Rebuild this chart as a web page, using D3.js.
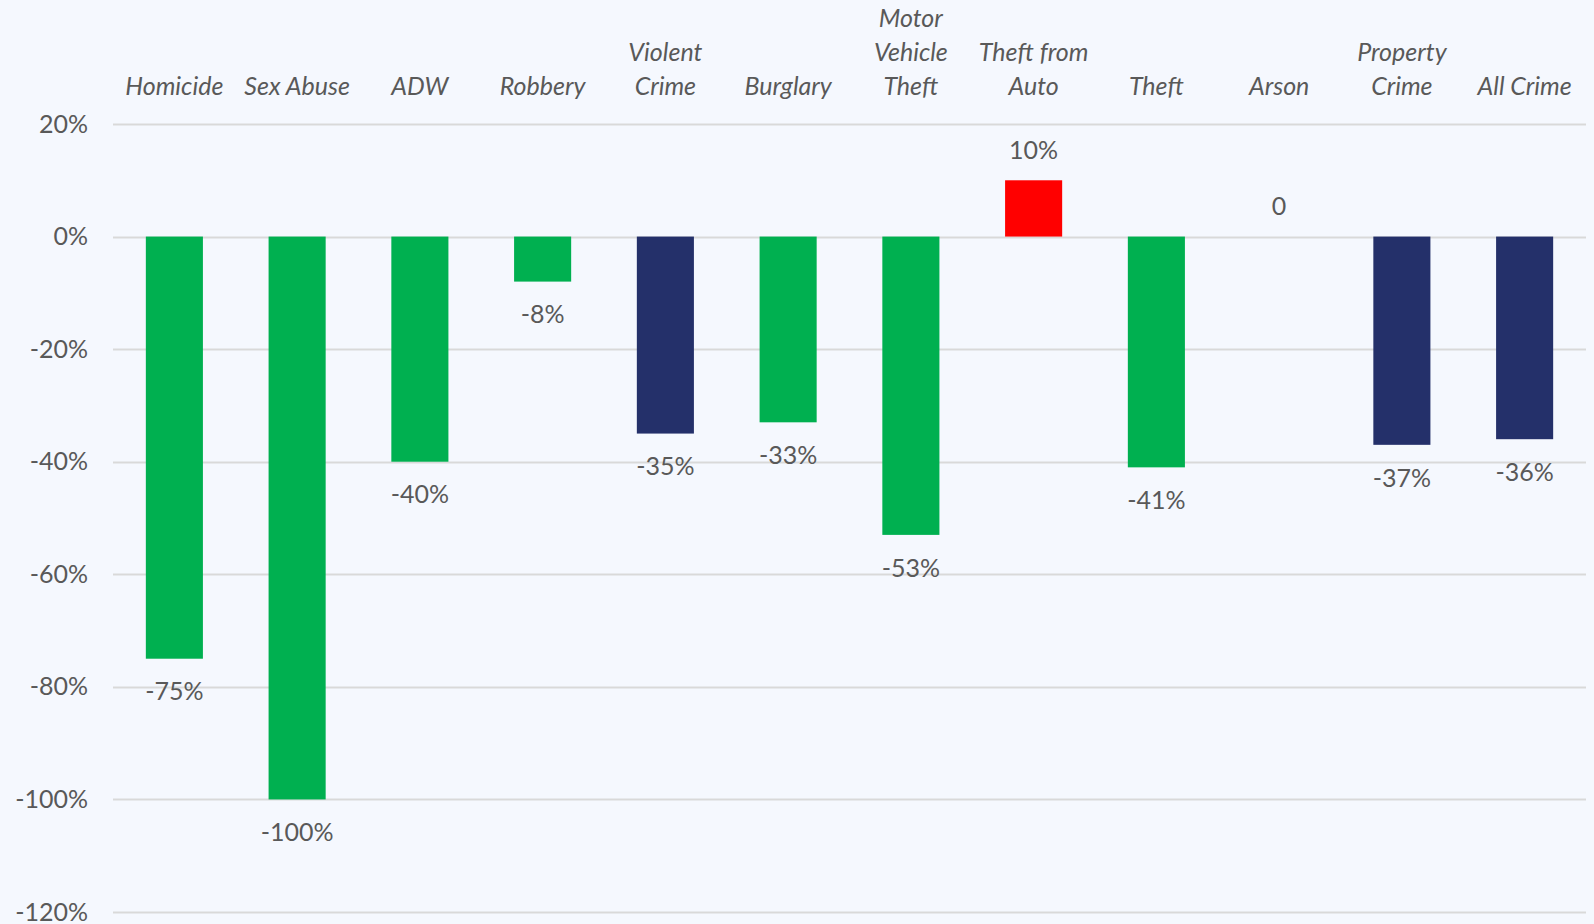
<!DOCTYPE html>
<html>
<head>
<meta charset="utf-8">
<script src="https://cdn.jsdelivr.net/npm/d3@7"></script>
<style>
  html, body { margin: 0; padding: 0; background: #f5f8fe; }
  svg { display: block; }
  text { font-family: Lato, "Open Sans", sans-serif; fill: #595959; }
</style>
</head>
<body>
<svg id="chart"></svg>
<script>
(function() {

  // categories (label lines) and percent change values
  const categories = [
    ['Homicide'], ['Sex Abuse'], ['ADW'], ['Robbery'], ['Violent', 'Crime'],
    ['Burglary'], ['Motor', 'Vehicle', 'Theft'], ['Theft from', 'Auto'],
    ['Theft'], ['Arson'], ['Property', 'Crime'], ['All Crime']
  ];
  const values = [-75, -100, -40, -8, -35, -33, -53, 10, -41, 0, -37, -36];
  const barColors = ['#00b050', '#00b050', '#00b050', '#00b050', '#24306a', '#00b050',
    '#00b050', '#ff0000', '#00b050', '#00b050', '#24306a', '#24306a'];
  const yTicks = [20, 0, -20, -40, -60, -80, -100, -120];

  const width = 1594;
  const height = 924;
  const fontSize = 25;
  const margin = {
    left: 113,
    right: 8,
    top: 124,
    bottom: 12
  };

  const svg = d3.select('#chart')
    .attr('width', width)
    .attr('height', height);

  const x = d3.scaleBand()
    .domain(d3.range(categories.length))
    .range([margin.left, width - margin.right])
    .paddingInner(0.535)
    .paddingOuter(0.2675);

  const y = d3.scaleLinear()
    .domain([20, -120])
    .range([margin.top, height - margin.bottom]);

  // gridlines
  svg.append('g').attr('class', 'grid')
    .selectAll('line')
    .data(yTicks)
    .enter()
    .append('line')
    .attr('x1', margin.left)
    .attr('x2', width - margin.right)
    .attr('y1', function(d) { return Math.round(y(d)) + 0.5; })
    .attr('y2', function(d) { return Math.round(y(d)) + 0.5; })
    .attr('stroke', '#d9d9d9')
    .attr('stroke-width', 2);

  // y axis labels
  const yAxis = d3.axisLeft(y)
    .tickValues(yTicks)
    .tickFormat(function(d) { return d + '%'; })
    .tickSize(0)
    .tickPadding(25);

  const yAxisGroup = svg.append('g')
    .attr('transform', 'translate(' + margin.left + ',0)')
    .call(yAxis);
  yAxisGroup.select('.domain').remove();
  yAxisGroup.selectAll('text')
    .attr('font-family', 'Lato, "Open Sans", sans-serif')
    .attr('font-size', fontSize)
    .attr('fill', '#595959');

  // bars
  svg.append('g').attr('class', 'bars')
    .selectAll('rect')
    .data(values)
    .enter()
    .append('rect')
    .attr('x', function(d, i) { return x(i); })
    .attr('width', x.bandwidth())
    .attr('y', function(d) { return y(Math.max(d, 0)); })
    .attr('height', function(d) { return Math.abs(y(d) - y(0)); })
    .attr('fill', function(d, i) { return barColors[i]; });

  // value labels
  svg.append('g').attr('class', 'value-labels')
    .selectAll('text')
    .data(values)
    .enter()
    .append('text')
    .attr('x', function(d, i) { return x(i) + x.bandwidth() / 2; })
    .attr('y', function(d) { return d < 0 ? y(d) + 33 : y(d) - 30; })
    .attr('dy', '0.35em')
    .attr('text-anchor', 'middle')
    .style('font-size', fontSize + 'px')
    .text(function(d) { return d === 0 ? '0' : d + '%'; });

  // category labels above the plot
  const catGroup = svg.append('g').attr('class', 'categories')
    .selectAll('text')
    .data(categories)
    .enter()
    .append('text')
    .attr('text-anchor', 'middle')
    .style('font-size', fontSize + 'px')
    .style('font-style', 'italic');

  catGroup.selectAll('tspan')
    .data(function(d, i) {
      return d.map(function(line, j) {
        return { line: line, i: i, row: d.length - 1 - j };
      });
    })
    .enter()
    .append('tspan')
    .attr('x', function(d) { return x(d.i) + x.bandwidth() / 2; })
    .attr('y', function(d) { return 86 - d.row * 34; })
    .attr('dy', '0.35em')
    .text(function(d) { return d.line; });
})();
</script>
</body>
</html>
